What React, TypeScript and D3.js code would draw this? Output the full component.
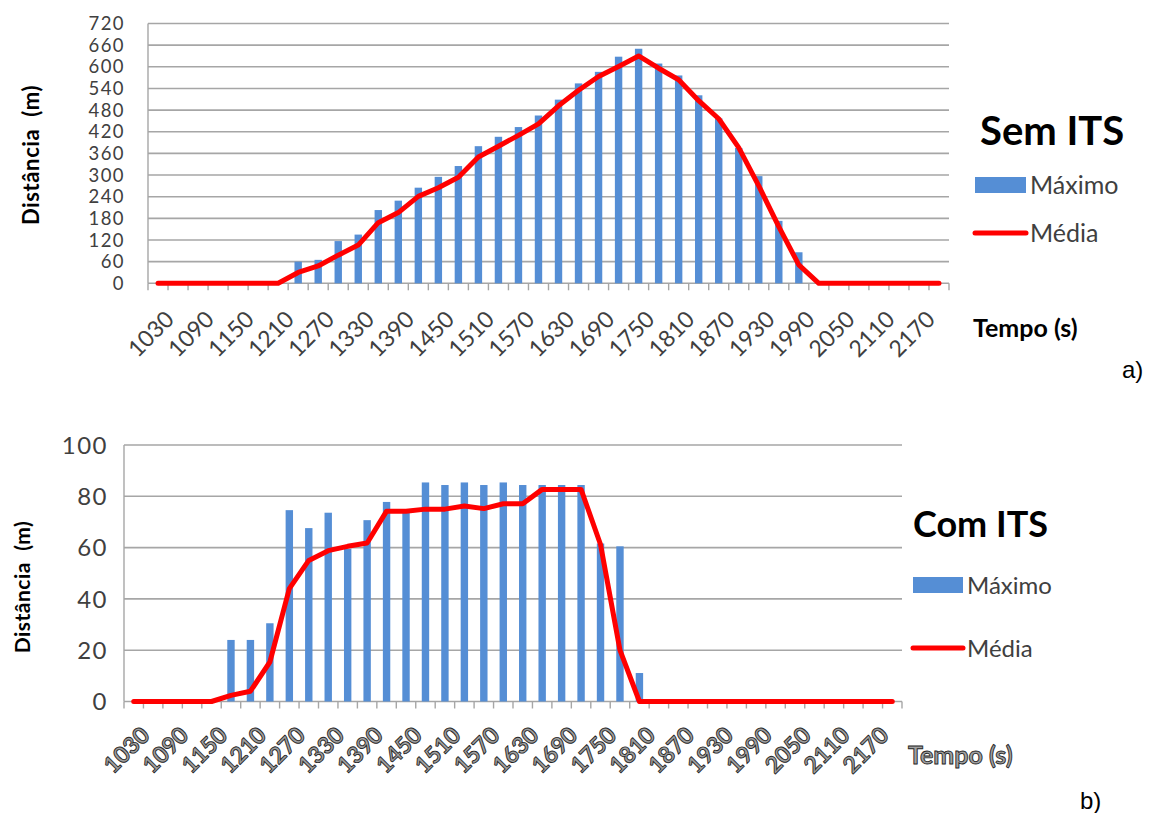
import React from "react";
import * as d3 from "d3";

// Time steps (s) along the horizontal axis
const tempo = [
  1030, 1060, 1090, 1120, 1150, 1180, 1210, 1240, 1270, 1300,
  1330, 1360, 1390, 1420, 1450, 1480, 1510, 1540, 1570, 1600,
  1630, 1660, 1690, 1720, 1750, 1780, 1810, 1840, 1870, 1900,
  1930, 1960, 1990, 2020, 2050, 2080, 2110, 2140, 2170, 2200,
];

// a) Sem ITS — queue distance (m)
const semItsMaximo = [
  0, 0, 0, 0, 0, 0, 0, 60, 65, 117,
  135, 203, 229, 265, 295, 325, 380, 406, 433, 465,
  509, 554, 586, 628, 650, 609, 576, 521, 457, 375,
  297, 173, 86, 0, 0, 0, 0, 0, 0, 0,
];
const semItsMedia = [
  0, 0, 0, 0, 0, 0, 0, 30, 48, 78,
  106, 168, 196, 241, 265, 294, 350, 380, 410, 442,
  492, 535, 573, 601, 630, 596, 564, 506, 456, 376,
  270, 157, 51, 0, 0, 0, 0, 0, 0, 0,
];
const semItsTicks = [0, 60, 120, 180, 240, 300, 360, 420, 480, 540, 600, 660, 720];

// b) Com ITS — queue distance (m)
const comItsMaximo = [
  0, 0, 0, 0, 0, 24, 24, 30.5, 74.6, 67.6,
  73.6, 59.5, 70.7, 77.8, 74, 85.4, 84.4, 85.4, 84.4, 85.4,
  84.4, 84.4, 84.4, 84.4, 61.6, 60.5, 11.1, 0, 0, 0,
  0, 0, 0, 0, 0, 0, 0, 0, 0, 0,
];
const comItsMedia = [
  0, 0, 0, 0, 0, 2.4, 4, 15.4, 44, 55,
  58.8, 60.5, 61.8, 74.2, 74.2, 75, 75, 76.2, 75.2, 77.1,
  77.1, 82.7, 82.7, 82.7, 61.2, 20, 0, 0, 0, 0,
  0, 0, 0, 0, 0, 0, 0, 0, 0, 0,
];
const comItsTicks = [0, 20, 40, 60, 80, 100];

const seriesNames = ["Máximo", "Média"];

const BAR = "#558ED5";
const LINE = "#FF0000";
const GRID = "#A6A6A6";
const FONT = "Lato, 'Open Sans', sans-serif";

type PanelProps = {
  title: string;
  maximo: number[];
  media: number[];
  ticks: number[];
  left: number;
  right: number;
  top: number;
  bottom: number;
  tickLabelRight: number;
  tickFont: number;
  tickLetterSpacing: number;
  xTickFont: number;
  xTickOffset: number;
  yTitle: { x: number; y: number; size: number; spacing: number };
  xLabelStyle: "plain" | "outlined";
  xTitle: { x: number; y: number; size: number };
  legend: {
    x: number;
    titleX: number;
    titleY: number;
    titleSize: number;
    row1: number;
    row2: number;
    swatchW: number;
    textSize: number;
  };
  panelTag: { text: string; x: number; y: number };
};

function Panel(p: PanelProps) {
  const x = d3
    .scaleBand<number>()
    .domain(d3.range(tempo.length))
    .range([p.left, p.right])
    .paddingInner(0)
    .paddingOuter(0);
  const y = d3.scaleLinear().domain([0, p.ticks[p.ticks.length - 1]]).range([p.bottom, p.top]);
  const cx = (i: number) => (x(i) as number) + x.bandwidth() / 2;
  const barW = 7.4;
  const line = d3
    .line<number>()
    .x((_, i) => cx(i))
    .y((d) => y(d));

  const outlined = p.xLabelStyle === "outlined";
  const labelFill = outlined ? "#A0A0A0" : "#404040";
  const labelStroke = outlined ? "#262626" : "none";

  return (
    <g>
      {/* horizontal gridlines */}
      {p.ticks.map((t) => (
        <line key={"g" + t} x1={p.left} x2={p.right} y1={y(t)} y2={y(t)} stroke={GRID} strokeWidth={1.6} />
      ))}
      {/* value axis */}
      <line x1={p.left} x2={p.left} y1={p.top} y2={p.bottom} stroke={GRID} strokeWidth={1.4} />
      {/* category tick marks */}
      {d3.range(tempo.length + 1).map((i) => {
        const xx = i < tempo.length ? (x(i) as number) : p.right;
        return <line key={"t" + i} x1={xx} x2={xx} y1={p.bottom} y2={p.bottom + 7} stroke={GRID} strokeWidth={1.4} />;
      })}
      {/* y tick labels */}
      {p.ticks.map((t) => (
        <text
          key={"yl" + t}
          x={p.tickLabelRight}
          y={y(t)}
          dy="0.36em"
          textAnchor="end"
          fontFamily={FONT}
          fontSize={p.tickFont}
          letterSpacing={p.tickLetterSpacing}
          fill="#404040"
        >
          {t}
        </text>
      ))}
      {/* x tick labels, every second step */}
      {tempo.map((t, i) =>
        i % 2 === 0 ? (
          <text
            key={"xl" + t}
            transform={`translate(${cx(i) + 6},${p.bottom + p.xTickOffset}) rotate(-45)`}
            textAnchor="end"
            dy="0.7em"
            fontFamily={FONT}
            fontSize={p.xTickFont}
            fontWeight={outlined ? 700 : 400}
            fill={labelFill}
            stroke={labelStroke}
            strokeWidth={outlined ? 0.9 : 0}
          >
            {t}
          </text>
        ) : null
      )}
      {/* Máximo bars */}
      {p.maximo.map((v, i) =>
        v > 0 ? (
          <rect key={"b" + i} x={cx(i) - barW / 2} y={y(v)} width={barW} height={p.bottom - y(v)} fill={BAR} />
        ) : null
      )}
      {/* Média line */}
      <path
        d={line(p.media) as string}
        fill="none"
        stroke={LINE}
        strokeWidth={5}
        strokeLinejoin="round"
        strokeLinecap="round"
      />
      {/* axis titles */}
      <text
        transform={`translate(${p.yTitle.x},${p.yTitle.y}) rotate(-90)`}
        textAnchor="middle"
        fontFamily={FONT}
        fontWeight={700}
        fontSize={p.yTitle.size}
        letterSpacing={p.yTitle.spacing}
        fill="#000"
        style={{ whiteSpace: "pre" }}
      >
        {"Distância  (m)"}
      </text>
      <text
        x={p.xTitle.x}
        y={p.xTitle.y}
        fontFamily={FONT}
        fontWeight={700}
        fontSize={p.xTitle.size}
        fill={outlined ? "#A0A0A0" : "#000"}
        stroke={outlined ? "#262626" : "none"}
        strokeWidth={outlined ? 0.9 : 0}
      >
        Tempo (s)
      </text>
      {/* legend */}
      <text
        x={p.legend.titleX}
        y={p.legend.titleY}
        fontFamily={FONT}
        fontWeight={700}
        fontSize={p.legend.titleSize}
        fill="#000"
      >
        {p.title}
      </text>
      <rect x={p.legend.x} y={p.legend.row1 - 8} width={p.legend.swatchW} height={16} fill={BAR} />
      <text
        x={p.legend.x + p.legend.swatchW + 4}
        y={p.legend.row1}
        dy="0.36em"
        fontFamily={FONT}
        fontSize={p.legend.textSize}
        fill="#404040"
      >
        {seriesNames[0]}
      </text>
      <line
        x1={p.legend.x}
        x2={p.legend.x + p.legend.swatchW}
        y1={p.legend.row2}
        y2={p.legend.row2}
        stroke={LINE}
        strokeWidth={5}
        strokeLinecap="round"
      />
      <text
        x={p.legend.x + p.legend.swatchW + 4}
        y={p.legend.row2}
        dy="0.36em"
        fontFamily={FONT}
        fontSize={p.legend.textSize}
        fill="#404040"
      >
        {seriesNames[1]}
      </text>
      <text x={p.panelTag.x} y={p.panelTag.y} fontFamily="'Liberation Sans', Arial, sans-serif" fontSize={24} fill="#000">
        {p.panelTag.text}
      </text>
    </g>
  );
}

export default function App() {
  return (
    <svg
      width={1150}
      height={813}
      viewBox="0 0 1150 813"
      style={{ position: "absolute", left: 0, top: 0, display: "block", background: "#fff" }}
    >
      <Panel
        title="Sem ITS"
        maximo={semItsMaximo}
        media={semItsMedia}
        ticks={semItsTicks}
        left={148}
        right={949}
        top={23.5}
        bottom={283.3}
        tickLabelRight={125}
        tickFont={18.5}
        tickLetterSpacing={1.4}
        xTickFont={23}
        xTickOffset={26}
        yTitle={{ x: 39, y: 155, size: 22, spacing: 0.6 }}
        xLabelStyle="plain"
        xTitle={{ x: 973, y: 337, size: 25 }}
        legend={{ x: 975, titleX: 980, titleY: 145, titleSize: 40, row1: 185, row2: 233, swatchW: 51, textSize: 25 }}
        panelTag={{ text: "a)", x: 1122, y: 378 }}
      />
      <Panel
        title="Com ITS"
        maximo={comItsMaximo}
        media={comItsMedia}
        ticks={comItsTicks}
        left={124}
        right={902}
        top={445}
        bottom={701.5}
        tickLabelRight={108}
        tickFont={24}
        tickLetterSpacing={1.5}
        xTickFont={23}
        xTickOffset={24}
        yTitle={{ x: 30, y: 587, size: 21, spacing: 0.5 }}
        xLabelStyle="outlined"
        xTitle={{ x: 908, y: 764, size: 25 }}
        legend={{ x: 913, titleX: 913, titleY: 537, titleSize: 36, row1: 585, row2: 648, swatchW: 50, textSize: 24 }}
        panelTag={{ text: "b)", x: 1080, y: 809 }}
      />
    </svg>
  );
}
